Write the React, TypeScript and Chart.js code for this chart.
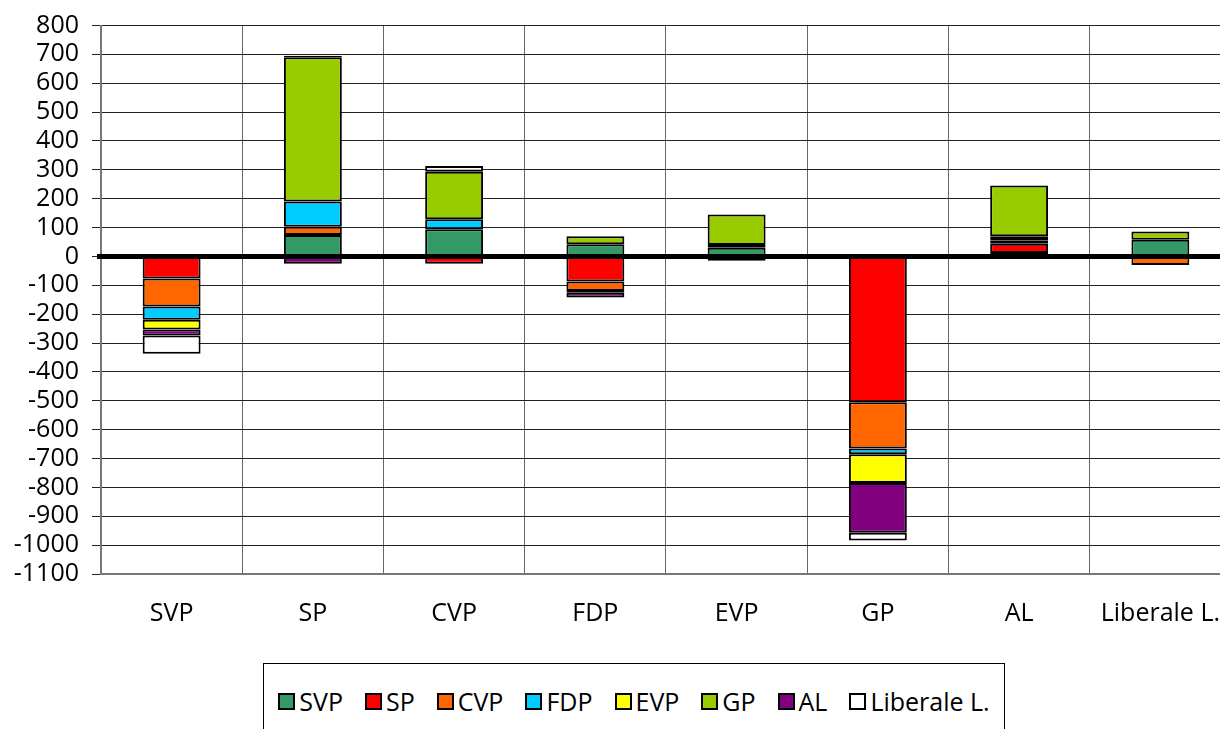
import React, { useEffect, useRef } from "react";
import { Chart, registerables } from "chart.js";

Chart.register(...registerables);

const categories = ["SVP", "SP", "CVP", "FDP", "EVP", "GP", "AL", "Liberale L."];

const svpValues = [null, 74, 94, 42, 30, null, 12, 58];
const spValues = [-76, null, -25, -87, null, -505, 32, null];
const cvpValues = [-97, 29, null, -33, null, -160, null, -30];
const fdpValues = [-46, 87, 35, null, 10, -20, 12, null];
const evpValues = [-34, null, null, -6, null, -100, 14, null];
const gpValues = [null, 500, 164, 28, 105, null, 176, 28];
const alValues = [-21, -25, null, -16, -15, -172, null, null];
const llValues = [-63, 5, 20, null, null, -27, -8, null];

const seriesNames = ["SVP", "SP", "CVP", "FDP", "EVP", "GP", "AL", "Liberale L."];
const seriesColors = ["#339966", "#FF0000", "#FF6600", "#00CCFF", "#FFFF00", "#99CC00", "#800080", "#FFFFFF"];
const seriesValues = [svpValues, spValues, cvpValues, fdpValues, evpValues, gpValues, alValues, llValues];

const FONT = "'Open Sans', sans-serif";

const zeroLinePlugin = {
  id: "zeroLine",
  afterDatasetsDraw(chart: any) {
    const { ctx, chartArea, scales } = chart;
    const y = scales.y.getPixelForValue(0);
    ctx.save();
    ctx.strokeStyle = "#000";
    ctx.lineWidth = 5;
    ctx.beginPath();
    ctx.moveTo(chartArea.left - 4, y);
    ctx.lineTo(chartArea.right + 20, y);
    ctx.stroke();
    ctx.restore();
  },
};

export default function App() {
  const ref = useRef<HTMLCanvasElement | null>(null);

  useEffect(() => {
    if (!ref.current) return;
    const chart = new Chart(ref.current, {
      type: "bar",
      data: {
        labels: categories,
        datasets: seriesNames.map((name, i) => ({
          label: name,
          data: seriesValues[i] as any,
          backgroundColor: seriesColors[i],
          borderColor: "#000",
          borderWidth: 2,
          borderSkipped: false,
          categoryPercentage: 1,
          barPercentage: 0.41,
        })),
      },
      options: {
        animation: false,
        responsive: false,
        devicePixelRatio: 1,
        layout: { padding: { top: 25, right: 0, left: 0, bottom: 0 } },
        plugins: { legend: { display: false }, tooltip: { enabled: false } },
        scales: {
          x: {
            stacked: true,
            grid: { color: "#666", lineWidth: 1, offset: true, drawTicks: false },
            border: { color: "#777", width: 2 },
            ticks: { color: "#000", font: { family: FONT, size: 25 }, padding: 25, maxRotation: 0, autoSkip: false },
            afterFit: (s: any) => { s.height = 155; },
          },
          y: {
            stacked: true,
            min: -1100,
            max: 800,
            grid: { color: "#222", lineWidth: 1, tickLength: 9 },
            border: { color: "#777", width: 2 },
            ticks: {
              stepSize: 100,
              autoSkip: false,
              color: "#000",
              font: { family: FONT, size: 25, lineHeight: 1 },
              padding: 13,
              callback: (v: any) => String(v),
            },
            afterFit: (s: any) => { s.width = 101; },
          },
        },
      },
      plugins: [zeroLinePlugin],
    });
    return () => chart.destroy();
  }, []);

  return (
    <div style={{ position: "fixed", left: 0, top: 0, width: 1220, height: 729, overflow: "hidden", background: "#fff" }}>
      <canvas ref={ref} width={1245} height={729} style={{ width: 1245, height: 729, display: "block" }} />
      <div
        style={{
          position: "absolute",
          left: 263,
          top: 663,
          width: 742,
          height: 90,
          border: "1px solid #000",
          boxSizing: "border-box",
          background: "#fff",
        }}
      >
        <div
          style={{
            position: "absolute",
            top: 23,
            left: 0,
            right: 0,
            display: "flex",
            justifyContent: "center",
            alignItems: "center",
            fontFamily: FONT,
            fontSize: 25,
            color: "#000",
            lineHeight: "28px",
          }}
        >
          {seriesNames.map((name, i) => (
            <div key={name} style={{ display: "flex", alignItems: "center", marginRight: i === seriesNames.length - 1 ? 0 : 22 }}>
              <span
                style={{
                  display: "inline-block",
                  width: 13,
                  height: 13,
                  background: seriesColors[i],
                  border: "2px solid #000",
                  marginRight: 4,
                }}
              />
              <span>{name}</span>
            </div>
          ))}
        </div>
      </div>
    </div>
  );
}
